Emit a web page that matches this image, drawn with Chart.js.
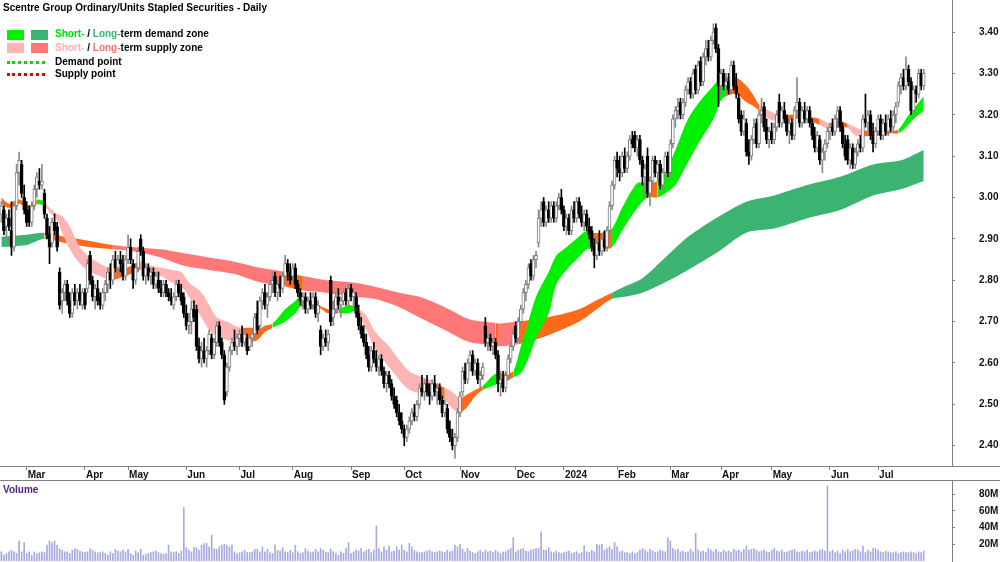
<!DOCTYPE html>
<html>
<head>
<meta charset="utf-8">
<title>Scentre Group - Daily</title>
<script src="https://cdn.jsdelivr.net/npm/chart.js@4.4.1/dist/chart.umd.min.js"></script>
<style>
    body { margin: 0; background: #fff; font-family: Arial, "Liberation Sans", sans-serif; }
    #wrap { position: relative; width: 1000px; height: 562px; overflow: hidden; background: #fff; }
    #priceChart { position: absolute; left: 0; top: 0; }
    #volumeChart { position: absolute; left: 0; top: 480px; }
    .rule { position: absolute; left: 0; width: 1000px; height: 1px; background: #808080; }
    .label { position: absolute; font-size: 10px; font-weight: bold; line-height: 12px; white-space: nowrap; color: #000; }
    .swatch { position: absolute; width: 17px; height: 10px; }
    .dots { position: absolute; left: 7px; width: 38px; height: 0; border-top: 3px dotted; }
</style>
</head>
<body>
<div id="wrap">
    <canvas id="priceChart" width="1000" height="480"></canvas>
    <canvas id="volumeChart" width="1000" height="82"></canvas>
    <div class="rule" style="top:466px"></div>
    <div class="rule" style="top:480px"></div>

    <div class="label" style="left:3px; top:2px">Scentre Group Ordinary/Units Stapled Securities - Daily</div>

    <span class="swatch" style="left:7px; top:30px; background:#00f000"></span>
    <span class="swatch" style="left:31px; top:30px; background:#3cb371"></span>
    <div class="label" style="left:55px; top:28px"><span style="color:#00e000">Short-</span> / <span style="color:#3cb371">Long-</span>term demand zone</div>

    <span class="swatch" style="left:7px; top:43px; background:#ffb4b4"></span>
    <span class="swatch" style="left:31px; top:43px; background:#ff7878"></span>
    <div class="label" style="left:55px; top:42px"><span style="color:#ffb0b0">Short-</span> / <span style="color:#ff7070">Long-</span>term supply zone</div>

    <div class="dots" style="top:61px; border-color:#00e000"></div>
    <div class="label" style="left:55px; top:56px">Demand point</div>
    <div class="dots" style="top:73px; border-color:#e00000"></div>
    <div class="label" style="left:55px; top:68px">Supply point</div>

    <div class="label" style="left:3px; top:484px; color:#55207f">Volume</div>
</div>

<script>
// =============================
// DATA
// =============================

// first trading day of each month (index into the daily arrays)
const monthTickIdx = [10, 33, 50, 73, 94, 115, 138, 159, 181, 203, 222, 243, 264, 284, 304, 327, 346];
const monthTickLabels = ['Mar', 'Apr', 'May', 'Jun', 'Jul', 'Aug', 'Sep', 'Oct', 'Nov', 'Dec', '2024', 'Feb', 'Mar', 'Apr', 'May', 'Jun', 'Jul'];

const priceTicks = [2.4, 2.5, 2.6, 2.7, 2.8, 2.9, 3.0, 3.1, 3.2, 3.3, 3.4];
const volumeTicks = [20, 40, 60, 80];

const openPx = [
    2.96,2.97,2.93,2.95,2.92,2.88,2.98,3.06,3.08,3.00, 2.97,2.97,2.94,2.98,3.02,3.04,3.03,3.01,2.95,2.91,
    2.89,2.94,2.93,2.82,2.75,2.77,2.79,2.75,2.72,2.77, 2.75,2.77,2.74,2.77,2.78,2.86,2.80,2.76,2.78,2.76,
    2.74,2.77,2.79,2.82,2.80,2.85,2.83,2.85,2.84,2.81, 2.85,2.88,2.84,2.80,2.83,2.90,2.87,2.81,2.83,2.81,
    2.82,2.79,2.80,2.78,2.77,2.79,2.77,2.76,2.74,2.76, 2.79,2.77,2.76,2.72,2.69,2.70,2.73,2.73,2.64,2.61,
    2.63,2.61,2.63,2.66,2.62,2.65,2.69,2.65,2.62,2.53, 2.59,2.63,2.65,2.64,2.66,2.67,2.65,2.66,2.64,2.66,
    2.67,2.72,2.69,2.75,2.77,2.74,2.76,2.79,2.81,2.77, 2.79,2.78,2.81,2.84,2.82,2.81,2.83,2.79,2.77,2.75,
    2.76,2.73,2.75,2.74,2.76,2.72,2.68,2.64,2.66,2.65, 2.80,2.71,2.73,2.76,2.74,2.75,2.77,2.75,2.78,2.76,
    2.76,2.72,2.69,2.67,2.65,2.62,2.59,2.63,2.61,2.59, 2.61,2.58,2.55,2.57,2.55,2.52,2.51,2.48,2.46,2.44,
    2.42,2.44,2.46,2.48,2.47,2.50,2.54,2.53,2.55,2.53, 2.52,2.55,2.53,2.54,2.51,2.48,2.49,2.44,2.42,2.40,
    2.42,2.48,2.53,2.58,2.56,2.60,2.62,2.58,2.60,2.56, 2.57,2.69,2.65,2.66,2.64,2.65,2.62,2.55,2.56,2.54,
    2.57,2.61,2.64,2.69,2.66,2.70,2.73,2.77,2.79,2.84, 2.81,2.85,2.89,2.95,2.99,2.94,2.97,2.95,2.98,2.95,
    2.98,3.00,2.97,2.93,2.95,2.92,2.97,2.95,2.99,2.96, 2.94,2.96,2.93,2.92,2.88,2.86,2.89,2.87,2.90,2.88,
    2.92,2.98,3.03,3.09,3.07,3.06,3.10,3.07,3.10,3.14, 3.15,3.12,3.14,3.09,3.05,3.10,3.01,3.04,3.09,3.06,
    3.08,3.03,3.06,3.10,3.06,3.13,3.19,3.21,3.23,3.20, 3.23,3.26,3.28,3.25,3.31,3.26,3.33,3.28,3.34,3.36,
    3.34,3.38,3.41,3.36,3.27,3.30,3.27,3.28,3.26,3.32, 3.27,3.24,3.20,3.16,3.18,3.11,3.10,3.14,3.18,3.13,
    3.20,3.22,3.17,3.14,3.16,3.14,3.17,3.23,3.18,3.21, 3.19,3.16,3.18,3.15,3.21,3.23,3.18,3.21,3.19,3.21,
    3.18,3.15,3.12,3.14,3.09,3.11,3.13,3.16,3.17,3.16, 3.19,3.21,3.17,3.13,3.14,3.09,3.12,3.08,3.11,3.13,
    3.12,3.19,3.18,3.20,3.15,3.13,3.16,3.19,3.15,3.18, 3.16,3.19,3.17,3.20,3.23,3.27,3.29,3.27,3.31,3.28,
    3.21,3.26,3.25,3.30,3.27
];

const highPx = [
    2.99,2.98,2.96,2.97,2.99,2.99,3.08,3.11,3.09,3.03, 2.99,2.98,2.99,3.03,3.06,3.07,3.08,3.02,2.96,2.93,
    2.95,2.96,2.94,2.83,2.78,2.80,2.80,2.77,2.78,2.79, 2.78,2.79,2.78,2.78,2.85,2.87,2.81,2.79,2.80,2.77,
    2.78,2.80,2.83,2.84,2.86,2.87,2.86,2.87,2.86,2.86, 2.91,2.90,2.85,2.84,2.88,2.91,2.88,2.84,2.84,2.83,
    2.83,2.82,2.82,2.80,2.80,2.80,2.78,2.78,2.77,2.80, 2.80,2.79,2.77,2.74,2.72,2.75,2.75,2.74,2.66,2.65,
    2.66,2.64,2.68,2.67,2.66,2.70,2.70,2.66,2.63,2.60, 2.64,2.66,2.68,2.67,2.68,2.69,2.68,2.67,2.67,2.68,
    2.72,2.75,2.76,2.78,2.79,2.77,2.80,2.82,2.82,2.80, 2.81,2.82,2.86,2.85,2.84,2.84,2.84,2.80,2.78,2.77,
    2.77,2.76,2.77,2.77,2.77,2.75,2.69,2.67,2.68,2.68, 2.81,2.75,2.77,2.78,2.76,2.78,2.78,2.79,2.79,2.78,
    2.77,2.74,2.71,2.69,2.67,2.64,2.64,2.65,2.63,2.62, 2.62,2.59,2.58,2.58,2.56,2.54,2.52,2.50,2.48,2.45,
    2.45,2.47,2.49,2.50,2.51,2.55,2.57,2.56,2.57,2.55, 2.56,2.57,2.55,2.55,2.52,2.51,2.50,2.46,2.44,2.43,
    2.49,2.53,2.59,2.60,2.61,2.63,2.63,2.61,2.61,2.58, 2.60,2.71,2.67,2.67,2.66,2.66,2.63,2.58,2.58,2.58,
    2.62,2.65,2.68,2.70,2.71,2.74,2.78,2.80,2.84,2.85, 2.86,2.87,2.97,2.99,3.00,2.98,2.99,2.99,2.99,2.99,
    3.01,3.02,2.98,2.96,2.96,2.98,2.99,3.00,3.00,2.98, 2.97,2.97,2.95,2.93,2.90,2.91,2.92,2.91,2.92,2.93,
    2.99,3.04,3.10,3.11,3.10,3.11,3.12,3.11,3.15,3.16, 3.16,3.15,3.15,3.10,3.08,3.12,3.05,3.10,3.10,3.09,
    3.09,3.07,3.11,3.11,3.14,3.20,3.22,3.24,3.24,3.24, 3.27,3.29,3.29,3.31,3.32,3.33,3.34,3.35,3.38,3.38,
    3.39,3.42,3.42,3.37,3.31,3.31,3.30,3.30,3.33,3.33, 3.30,3.25,3.21,3.21,3.19,3.14,3.15,3.19,3.19,3.21,
    3.24,3.23,3.19,3.17,3.18,3.18,3.21,3.25,3.22,3.23, 3.20,3.19,3.19,3.22,3.29,3.24,3.22,3.23,3.22,3.22,
    3.19,3.17,3.16,3.15,3.12,3.14,3.17,3.18,3.19,3.20, 3.22,3.22,3.18,3.15,3.15,3.13,3.13,3.12,3.14,3.15,
    3.20,3.25,3.21,3.21,3.18,3.17,3.20,3.20,3.19,3.20, 3.20,3.21,3.21,3.23,3.28,3.30,3.31,3.34,3.32,3.29,
    3.27,3.27,3.31,3.31,3.31
];

const lowPx = [
    2.94,2.91,2.90,2.92,2.86,2.87,2.97,3.03,3.00,2.96, 2.93,2.93,2.93,2.97,3.00,3.02,3.02,2.95,2.90,2.84,
    2.88,2.91,2.87,2.73,2.72,2.75,2.74,2.71,2.71,2.74, 2.73,2.74,2.73,2.73,2.77,2.79,2.75,2.73,2.74,2.73,
    2.73,2.75,2.77,2.78,2.79,2.82,2.81,2.82,2.80,2.80, 2.84,2.84,2.78,2.79,2.82,2.86,2.80,2.79,2.80,2.79,
    2.78,2.78,2.77,2.76,2.76,2.76,2.75,2.74,2.73,2.75, 2.76,2.74,2.71,2.68,2.67,2.67,2.70,2.63,2.60,2.59,
    2.60,2.59,2.62,2.61,2.61,2.64,2.64,2.61,2.50,2.52, 2.58,2.62,2.63,2.62,2.64,2.64,2.64,2.62,2.63,2.64,
    2.66,2.67,2.68,2.73,2.73,2.71,2.75,2.77,2.76,2.75, 2.76,2.77,2.79,2.80,2.79,2.80,2.78,2.76,2.74,2.73,
    2.72,2.72,2.73,2.73,2.71,2.70,2.62,2.63,2.64,2.63, 2.69,2.69,2.72,2.73,2.71,2.74,2.74,2.74,2.75,2.73,
    2.71,2.68,2.66,2.64,2.61,2.58,2.58,2.60,2.58,2.57, 2.57,2.54,2.53,2.54,2.51,2.49,2.47,2.45,2.43,2.40,
    2.41,2.43,2.45,2.46,2.46,2.49,2.52,2.51,2.52,2.50, 2.51,2.52,2.50,2.50,2.47,2.47,2.43,2.41,2.39,2.37,
    2.41,2.47,2.52,2.55,2.55,2.58,2.57,2.57,2.55,2.54, 2.56,2.64,2.63,2.63,2.62,2.61,2.53,2.52,2.53,2.53,
    2.56,2.60,2.63,2.65,2.65,2.69,2.72,2.75,2.78,2.80, 2.80,2.83,2.88,2.93,2.93,2.93,2.94,2.94,2.94,2.94,
    2.97,2.96,2.92,2.91,2.91,2.91,2.94,2.94,2.95,2.93, 2.92,2.92,2.90,2.87,2.83,2.85,2.86,2.86,2.87,2.87,
    2.91,2.97,3.02,3.05,3.04,3.05,3.06,3.06,3.09,3.12, 3.11,3.10,3.08,3.03,3.00,3.00,2.98,3.03,3.05,3.04,
    3.02,3.02,3.05,3.05,3.05,3.12,3.17,3.19,3.19,3.19, 3.22,3.25,3.24,3.24,3.25,3.25,3.27,3.27,3.32,3.33,
    3.33,3.37,3.35,3.22,3.25,3.26,3.25,3.25,3.25,3.26, 3.24,3.18,3.15,3.15,3.10,3.08,3.09,3.13,3.12,3.12,
    3.18,3.16,3.13,3.12,3.13,3.13,3.16,3.17,3.17,3.18, 3.15,3.13,3.14,3.14,3.20,3.17,3.17,3.18,3.18,3.17,
    3.14,3.11,3.11,3.08,3.06,3.09,3.12,3.14,3.15,3.15, 3.17,3.16,3.12,3.09,3.08,3.07,3.07,3.07,3.10,3.11,
    3.11,3.17,3.16,3.14,3.11,3.12,3.15,3.14,3.14,3.15, 3.15,3.16,3.16,3.18,3.22,3.25,3.26,3.26,3.27,3.20,
    3.19,3.23,3.24,3.26,3.26
];

const closePx = [
    2.98,2.92,2.95,2.93,2.88,2.98,3.06,3.09,3.01,2.97, 2.94,2.94,2.98,3.02,3.05,3.03,3.04,2.96,2.91,2.88,
    2.94,2.92,2.88,2.74,2.77,2.79,2.75,2.72,2.77,2.75, 2.77,2.75,2.77,2.74,2.84,2.80,2.76,2.78,2.75,2.74,
    2.77,2.79,2.82,2.80,2.85,2.83,2.85,2.84,2.81,2.85, 2.88,2.85,2.80,2.83,2.87,2.87,2.81,2.83,2.81,2.82,
    2.79,2.81,2.78,2.77,2.79,2.77,2.76,2.75,2.76,2.79, 2.77,2.75,2.72,2.69,2.70,2.73,2.71,2.64,2.61,2.63,
    2.61,2.63,2.67,2.62,2.65,2.69,2.65,2.62,2.51,2.59, 2.63,2.65,2.64,2.66,2.67,2.65,2.67,2.63,2.66,2.67,
    2.71,2.68,2.75,2.77,2.74,2.76,2.79,2.80,2.77,2.79, 2.78,2.81,2.84,2.82,2.80,2.83,2.79,2.77,2.75,2.76,
    2.73,2.75,2.74,2.76,2.72,2.74,2.64,2.66,2.65,2.67, 2.70,2.73,2.76,2.74,2.75,2.77,2.75,2.78,2.76,2.77,
    2.72,2.69,2.67,2.65,2.62,2.59,2.63,2.61,2.59,2.61, 2.58,2.55,2.57,2.55,2.52,2.50,2.48,2.46,2.44,2.42,
    2.44,2.46,2.48,2.47,2.50,2.54,2.53,2.55,2.53,2.52, 2.55,2.53,2.54,2.51,2.48,2.50,2.44,2.42,2.40,2.42,
    2.48,2.52,2.58,2.56,2.60,2.62,2.58,2.60,2.56,2.57, 2.59,2.65,2.66,2.64,2.65,2.62,2.55,2.56,2.54,2.57,
    2.61,2.64,2.67,2.66,2.70,2.73,2.77,2.79,2.83,2.81, 2.85,2.86,2.95,2.97,2.94,2.97,2.95,2.98,2.95,2.98,
    3.00,2.97,2.93,2.95,2.92,2.97,2.95,2.99,2.96,2.94, 2.96,2.93,2.91,2.88,2.86,2.89,2.87,2.90,2.88,2.92,
    2.98,3.03,3.09,3.07,3.06,3.10,3.07,3.10,3.14,3.13, 3.12,3.14,3.09,3.05,3.07,3.01,3.04,3.09,3.06,3.08,
    3.03,3.06,3.10,3.06,3.13,3.19,3.21,3.22,3.20,3.23, 3.26,3.28,3.25,3.30,3.26,3.32,3.28,3.34,3.36,3.34,
    3.38,3.40,3.36,3.27,3.30,3.27,3.28,3.26,3.32,3.27, 3.25,3.19,3.16,3.19,3.11,3.10,3.14,3.17,3.13,3.20,
    3.21,3.17,3.14,3.16,3.14,3.17,3.20,3.18,3.21,3.19, 3.16,3.18,3.15,3.21,3.23,3.18,3.21,3.19,3.21,3.18,
    3.15,3.12,3.15,3.09,3.11,3.13,3.16,3.17,3.16,3.19, 3.21,3.17,3.13,3.10,3.09,3.12,3.08,3.11,3.13,3.12,
    3.19,3.18,3.20,3.15,3.13,3.16,3.19,3.15,3.18,3.16, 3.19,3.17,3.20,3.22,3.27,3.29,3.27,3.31,3.28,3.21,
    3.26,3.25,3.30,3.27,3.30
];

// daily volume, millions of units
const volumeM = [
    11,7,9,11,13,11,9,24,11,22, 9,11,7,11,9,10,11,10,19,24,
    22,24,19,15,13,11,11,9,13,15, 14,12,11,10,11,15,13,11,10,10,
    11,9,7,11,9,14,12,11,13,11, 14,9,7,12,10,14,7,8,9,10,
    11,12,10,9,8,9,19,11,10,11, 9,12,64,16,13,11,16,16,13,19,
    21,21,17,31,15,14,17,19,20,19, 17,19,11,9,10,11,13,10,10,11,
    14,14,11,17,11,14,10,9,19,13, 12,16,11,10,13,10,19,11,9,10,
    15,12,10,11,14,11,15,13,11,10, 14,11,9,7,11,9,15,22,9,11,
    13,12,15,11,13,14,10,13,42,15, 11,17,13,18,11,12,17,13,19,13,
    11,21,17,13,11,10,10,11,12,13, 11,10,11,12,11,10,13,11,12,19,
    17,20,14,11,15,12,10,9,11,13, 10,13,11,12,10,13,11,9,11,11,
    13,15,28,11,13,14,15,12,11,13, 14,15,15,35,13,13,16,11,10,12,
    10,9,10,11,12,9,10,11,9,10, 18,11,10,13,11,20,19,20,13,15,
    17,14,22,17,11,12,10,10,9,11, 9,10,13,15,13,11,14,12,10,11,
    13,12,11,28,24,15,13,14,11,12, 10,11,14,11,33,13,11,12,10,15,
    13,11,14,11,10,13,11,12,10,14, 12,13,11,14,18,13,14,15,13,11,
    12,13,11,10,13,15,12,11,13,10, 11,12,13,14,11,10,12,11,13,10,
    11,12,11,13,14,12,90,11,13,10, 12,9,13,11,14,11,12,14,13,11,
    18,10,13,11,15,15,13,11,10,12, 11,10,10,11,9,10,11,10,10,11,
    10,9,11,10,12
];

// short-term zone: edges read at these days, zone code for the stretch that starts there
// D = demand, S = supply, N = neutral/transition
const shortIdx = [
    0,3,7,11,14,17,19,22,24,27, 31,35,39,43,49,55,59,63,67,71,
    74,79,82,85,89,92,95,99,101,104, 107,112,116,118,122,125,129,133,137,140,
    144,147,153,161,169,172,175,178,181,184, 187,190,194,196,199,202,205,208,211,216,
    219,223,227,231,233,237,241,245,251,255, 259,262,266,271,276,281,284,286,290,294,
    297,299,303,307,311,315,319,323,327,331, 334,337,340,344,347,351,354,357,360,364
];
const shortTop = [
    3.000,2.985,2.995,2.980,2.995,2.990,2.975,2.960,2.955,2.930, 2.880,2.855,2.840,2.830,2.830,2.845,2.835,2.830,2.825,2.820,
    2.795,2.770,2.740,2.710,2.700,2.690,2.685,2.685,2.680,2.690, 2.695,2.730,2.750,2.760,2.750,2.740,2.730,2.730,2.740,2.735,
    2.715,2.680,2.640,2.580,2.560,2.550,2.540,2.530,2.515,2.525, 2.535,2.545,2.570,2.575,2.575,2.580,2.640,2.700,2.760,2.820,
    2.860,2.880,2.900,2.920,2.915,2.915,2.925,2.975,3.035,3.035, 3.040,3.060,3.115,3.190,3.235,3.270,3.290,3.290,3.290,3.270,
    3.245,3.225,3.210,3.200,3.200,3.200,3.195,3.190,3.180,3.185, 3.178,3.170,3.163,3.160,3.163,3.160,3.165,3.190,3.215,3.245
];
const shortBottom = [
    2.985,2.975,2.985,2.970,2.983,2.980,2.965,2.945,2.915,2.875, 2.840,2.820,2.810,2.800,2.810,2.825,2.815,2.810,2.795,2.785,
    2.760,2.710,2.680,2.665,2.655,2.655,2.650,2.652,2.655,2.675, 2.685,2.700,2.720,2.735,2.730,2.735,2.720,2.720,2.720,2.725,
    2.680,2.640,2.590,2.535,2.525,2.520,2.510,2.490,2.480,2.495, 2.520,2.535,2.545,2.550,2.555,2.565,2.575,2.610,2.660,2.720,
    2.790,2.825,2.850,2.875,2.875,2.875,2.880,2.920,2.975,3.000, 3.000,3.010,3.030,3.085,3.140,3.190,3.235,3.245,3.250,3.230,
    3.220,3.210,3.190,3.185,3.188,3.190,3.185,3.175,3.165,3.170, 3.168,3.150,3.148,3.150,3.150,3.155,3.155,3.170,3.190,3.210
];
const shortZone = [
    'N','N','N','N','D','S','S','S','S','S', 'S','S','S','N','N','S','S','S','S','S',
    'S','S','S','S','S','S','N','N','N','N', 'D','D','D','N','N','N','N','D','D','S',
    'S','S','S','S','S','N','S','S','N','N', 'N','D','D','N','N','D','D','D','D','D',
    'D','D','D','D','N','N','D','D','D','N', 'D','D','D','D','D','D','D','N','N','N',
    'N','S','S','N','N','N','N','S','N','N', 'S','S','N','N','N','N','D','D','D','D'
];

// long-term zone
const longIdx = [
    0,10,17,25,35,44,52,63,72,82, 92,102,112,119,128,138,147,157,165,175,
    185,195,196,204,215,228,236,241,246,253, 262,271,282,294,305,318,331,344,355,364
];
const longTop = [
    2.905,2.910,2.915,2.905,2.895,2.885,2.880,2.875,2.865,2.855, 2.845,2.830,2.820,2.810,2.800,2.795,2.785,2.770,2.760,2.735,
    2.705,2.697,2.695,2.700,2.710,2.730,2.755,2.770,2.785,2.805, 2.855,2.905,2.950,2.990,3.005,3.030,3.050,3.080,3.090,3.115
];
const longBottom = [
    2.880,2.885,2.900,2.890,2.880,2.875,2.870,2.855,2.835,2.825, 2.815,2.795,2.785,2.775,2.770,2.760,2.755,2.735,2.710,2.680,
    2.650,2.643,2.640,2.645,2.665,2.700,2.735,2.755,2.760,2.770, 2.795,2.825,2.865,2.915,2.925,2.950,2.970,3.005,3.020,3.040
];
const longZone = [
    'D','D','N','N','N','S','S','S','S','S', 'S','S','N','S','S','S','S','S','S','S',
    'S','N','S','N','N','N','N','D','D','D', 'D','D','D','D','D','D','D','D','D','D'
];


// =============================
// STYLE
// =============================

const SHORT_COLORS = { D: '#00f000', S: '#ffb4b4', N: '#ff6a1a' };
const LONG_COLORS = { D: '#3cb371', S: '#ff7878', N: '#ff6a1a' };

const X_MIN = -0.54;
const X_MAX = 375.16;

Chart.defaults.font.family = 'Arial, "Liberation Sans", sans-serif';
Chart.defaults.font.size = 10;
Chart.defaults.font.weight = 'bold';
Chart.defaults.color = '#111';


// =============================
// HELPERS
// =============================

function isDown(i) {
    return closePx[i] < openPx[i];
}

function bandDatasets(idx, top, bottom, zones, colors, order) {
    const toPoints = arr => idx.map((x, k) => ({ x: x, y: arr[k] }));
    const common = {
        type: 'line',
        order: order,
        borderColor: 'rgba(0,0,0,0)',
        borderWidth: 1,
        pointRadius: 0,
        tension: 0.3
    };

    return [
        {
            ...common,
            data: toPoints(top),
            fill: '+1',
            backgroundColor: colors[zones[0]],
            segment: {
                backgroundColor: ctx => colors[zones[ctx.p0DataIndex]]
            }
        },
        {
            ...common,
            data: toPoints(bottom),
            fill: false
        }
    ];
}

// right-hand value axis: fixed 48px wide, labels pushed out to x≈979
function rightAxis(extra) {
    return Object.assign({
        type: 'linear',
        position: 'right',
        bounds: 'data',
        afterFit: scale => {
            scale.width = 48;
            scale.paddingTop = 0;
            scale.paddingBottom = 0;
        },
        grid: { drawOnChartArea: false, tickLength: 3, color: '#808080' },
        border: { display: true, color: '#808080' }
    }, extra);
}


// =============================
// PRICE CHART
// =============================

const days = openPx.map((_, i) => i);

new Chart(document.getElementById('priceChart'), {
    type: 'bar',
    data: {
        datasets: [
            ...bandDatasets(longIdx, longTop, longBottom, longZone, LONG_COLORS, 4),
            ...bandDatasets(shortIdx, shortTop, shortBottom, shortZone, SHORT_COLORS, 3),
            {
                type: 'bar',
                order: 2,
                grouped: false,
                barThickness: 1,
                data: days.map(i => ({ x: i, y: [lowPx[i], highPx[i]] })),
                backgroundColor: ctx => isDown(ctx.dataIndex) ? '#000' : '#8a8a8a'
            },
            {
                type: 'bar',
                order: 1,
                grouped: false,
                barThickness: 3,
                minBarLength: 1,
                borderWidth: 1,
                borderSkipped: false,
                data: days.map(i => ({ x: i, y: [openPx[i], closePx[i]] })),
                backgroundColor: ctx => isDown(ctx.dataIndex) ? '#000' : '#fff',
                borderColor: ctx => isDown(ctx.dataIndex) ? '#000' : '#7a7a7a'
            }
        ]
    },
    options: {
        responsive: false,
        maintainAspectRatio: false,
        animation: false,
        events: [],
        layout: { padding: 0 },
        plugins: {
            legend: { display: false },
            tooltip: { enabled: false }
        },
        scales: {
            x: {
                type: 'linear',
                min: X_MIN,
                max: X_MAX,
                offset: false,
                bounds: 'data',
                afterBuildTicks: scale => { scale.ticks = monthTickIdx.map(v => ({ value: v })); },
                afterFit: scale => {
                    scale.height = 14;
                    scale.paddingLeft = 0;
                    scale.paddingRight = 0;
                },
                ticks: {
                    autoSkip: false,
                    maxRotation: 0,
                    align: 'start',
                    padding: -1,
                    labelOffset: 1,
                    color: '#111',
                    callback: (v, k) => monthTickLabels[k]
                },
                grid: { drawOnChartArea: false, offset: false, tickLength: 4, color: '#808080' },
                border: { display: false }
            },
            y: rightAxis({
                min: 2.351,
                max: 3.4774,
                afterBuildTicks: scale => { scale.ticks = priceTicks.map(v => ({ value: v })); },
                ticks: { padding: 24, color: '#111', callback: v => v.toFixed(2) }
            })
        }
    }
});


// =============================
// VOLUME CHART
// =============================

new Chart(document.getElementById('volumeChart'), {
    type: 'bar',
    data: {
        datasets: [{
            grouped: false,
            barThickness: 1,
            data: days.map(i => ({ x: i, y: volumeM[i] })),
            backgroundColor: '#a9a9de'
        }]
    },
    options: {
        responsive: false,
        maintainAspectRatio: false,
        animation: false,
        events: [],
        layout: { padding: { bottom: 1 } },
        plugins: {
            legend: { display: false },
            tooltip: { enabled: false }
        },
        scales: {
            x: {
                type: 'linear',
                min: X_MIN,
                max: X_MAX,
                offset: false,
                display: false
            },
            y: rightAxis({
                min: 0,
                max: 97,
                afterBuildTicks: scale => { scale.ticks = volumeTicks.map(v => ({ value: v })); },
                ticks: { padding: 24, color: '#111', callback: v => v + 'M' }
            })
        }
    }
});
</script>
</body>
</html>
